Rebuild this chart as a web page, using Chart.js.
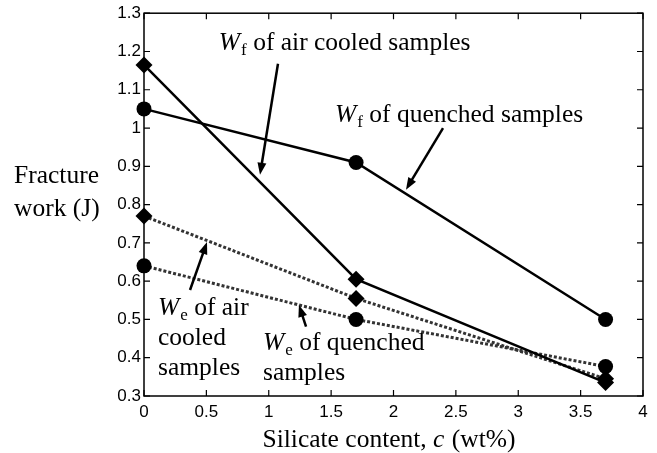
<!DOCTYPE html>
<html>
<head>
<meta charset="utf-8">
<script src="https://cdn.jsdelivr.net/npm/chart.js@4"></script>
<style>
  html, body { margin: 0; padding: 0; background: #fff; }
</style>
</head>
<body>
<canvas id="workChart" width="657" height="453"></canvas>
<script>
// Silicate content (wt%) at which samples were measured
const silicateContent = [0, 1.7, 3.7];

// Fracture work values (J)
const wfAirCooled = [1.165, 0.605, 0.335];
const wfQuenched = [1.05, 0.91, 0.5];
const weAirCooled = [0.77, 0.555, 0.345];
const weQuenched = [0.64, 0.5, 0.377];

// Axis ticks
const xTicks = [0, 0.5, 1, 1.5, 2, 2.5, 3, 3.5, 4];
const yTicks = [0.3, 0.4, 0.5, 0.6, 0.7, 0.8, 0.9, 1, 1.1, 1.2, 1.3];

const yTitleLines = ["Fracture", "work (J)"];
const xTitleParts = [["Silicate content, ", ""], ["c", "i"], [" (wt%)", ""]];

// Callout texts, placed in data coordinates
const callouts = [
  {
    lines: [[["W", "i"], ["f", "s"], [" of air cooled samples", ""]]],
    at: [0.6, 1.222],
    arrow: [1.074, 1.168, 0.93, 0.878],
  },
  {
    lines: [[["W", "i"], ["f", "s"], [" of quenched samples", ""]]],
    at: [1.531, 1.033],
    arrow: [2.397, 1.0, 2.1, 0.839],
  },
  {
    lines: [[["W", "i"], ["e", "s"], [" of air", ""]], [["cooled", ""]], [["samples", ""]]],
    at: [0.112, 0.528],
    arrow: [0.369, 0.577, 0.505, 0.702],
  },
  {
    lines: [[["W", "i"], ["e", "s"], [" of quenched", ""]], [["samples", ""]]],
    at: [0.954, 0.437],
    arrow: [1.299, 0.481, 1.242, 0.538],
  },
];

const SERIF = '"Liberation Serif", "Times New Roman", serif';

function toPoints(values) {
  return silicateContent.map((x, i) => ({ x: x, y: values[i] }));
}

function fontFor(style) {
  if (style === "i") return "italic 25.5px " + SERIF;
  if (style === "s") return "17px " + SERIF;
  return "25.5px " + SERIF;
}

// Draw a run of mixed italic / subscript text, left aligned, middle baseline
function drawRich(ctx, parts, x, y) {
  let cx = x;
  parts.forEach(([text, style]) => {
    ctx.font = fontFor(style);
    ctx.fillText(text, cx, style === "s" ? y + 7 : y);
    cx += ctx.measureText(text).width + (style === "i" ? 1 : 0);
  });
}

function richWidth(ctx, parts) {
  let w = 0;
  parts.forEach(([text, style]) => {
    ctx.font = fontFor(style);
    w += ctx.measureText(text).width;
  });
  return w;
}

function drawArrow(ctx, x1, y1, x2, y2) {
  const ang = Math.atan2(y2 - y1, x2 - x1);
  const len = 12, half = 4.5;
  ctx.lineWidth = 2.5;
  ctx.beginPath();
  ctx.moveTo(x1, y1);
  ctx.lineTo(x2 - Math.cos(ang) * len * 0.8, y2 - Math.sin(ang) * len * 0.8);
  ctx.stroke();
  ctx.beginPath();
  ctx.moveTo(x2, y2);
  ctx.lineTo(x2 - Math.cos(ang) * len - Math.sin(ang) * half, y2 - Math.sin(ang) * len + Math.cos(ang) * half);
  ctx.lineTo(x2 - Math.cos(ang) * len + Math.sin(ang) * half, y2 - Math.sin(ang) * len - Math.cos(ang) * half);
  ctx.closePath();
  ctx.fill();
}

// Box, inward ticks, callouts and axis titles
const decorations = {
  id: "decorations",
  afterDraw(chart) {
    const { ctx, chartArea: a, scales } = chart;
    const xs = scales.x, ys = scales.y;
    ctx.save();
    ctx.strokeStyle = "#000";
    ctx.fillStyle = "#000";
    ctx.lineWidth = 1.5;
    ctx.strokeRect(a.left, a.top, a.right - a.left, a.bottom - a.top);

    ctx.lineWidth = 1.2;
    ctx.beginPath();
    xTicks.forEach((v) => {
      const px = xs.getPixelForValue(v);
      ctx.moveTo(px, a.bottom); ctx.lineTo(px, a.bottom - 6);
      ctx.moveTo(px, a.top); ctx.lineTo(px, a.top + 6);
    });
    yTicks.forEach((v) => {
      const py = ys.getPixelForValue(v);
      ctx.moveTo(a.left, py); ctx.lineTo(a.left + 6, py);
      ctx.moveTo(a.right, py); ctx.lineTo(a.right - 6, py);
    });
    ctx.stroke();

    ctx.textBaseline = "middle";
    ctx.textAlign = "left";
    callouts.forEach((c) => {
      const x0 = xs.getPixelForValue(c.at[0]);
      const y0 = ys.getPixelForValue(c.at[1]);
      c.lines.forEach((line, i) => drawRich(ctx, line, x0, y0 + i * 30));
      drawArrow(ctx,
        xs.getPixelForValue(c.arrow[0]), ys.getPixelForValue(c.arrow[1]),
        xs.getPixelForValue(c.arrow[2]), ys.getPixelForValue(c.arrow[3]));
    });

    // y title, horizontal at the left
    ctx.font = "25.5px " + SERIF;
    yTitleLines.forEach((t, i) => ctx.fillText(t, 14, 176 + i * 33));

    // x title, centred under the axis
    const w = richWidth(ctx, xTitleParts);
    drawRich(ctx, xTitleParts, (a.left + a.right) / 2 - w / 2 - 5, 440);
    ctx.restore();
  },
};

const tickFont = { family: '"Liberation Sans", Arial, sans-serif', size: 17 };

const markerStyle = {
  pointBackgroundColor: "#000",
  pointBorderColor: "#000",
  pointBorderWidth: 0,
};

new Chart(document.getElementById("workChart"), {
  type: "line",
  data: {
    datasets: [
      Object.assign({
        label: "Wf of air cooled samples",
        data: toPoints(wfAirCooled),
        borderColor: "#000",
        borderWidth: 2.5,
        pointStyle: "rectRot",
        pointRadius: 8.5,
      }, markerStyle),
      Object.assign({
        label: "Wf of quenched samples",
        data: toPoints(wfQuenched),
        borderColor: "#000",
        borderWidth: 2.5,
        pointStyle: "circle",
        pointRadius: 7.5,
      }, markerStyle),
      Object.assign({
        label: "We of air cooled samples",
        data: toPoints(weAirCooled),
        borderColor: "#333",
        borderWidth: 3,
        borderDash: [3, 2],
        pointStyle: "rectRot",
        pointRadius: 8.5,
      }, markerStyle),
      Object.assign({
        label: "We of quenched samples",
        data: toPoints(weQuenched),
        borderColor: "#333",
        borderWidth: 3,
        borderDash: [3, 2],
        pointStyle: "circle",
        pointRadius: 7.5,
      }, markerStyle),
    ],
  },
  options: {
    responsive: false,
    animation: false,
    clip: false,
    layout: { padding: { left: 0, top: 12, right: 14, bottom: 0 } },
    plugins: { legend: { display: false }, tooltip: { enabled: false } },
    elements: { line: { tension: 0 } },
    scales: {
      x: {
        type: "linear",
        min: 0,
        max: 4,
        grid: { display: false, drawTicks: false },
        border: { display: false },
        afterBuildTicks: (s) => { s.ticks = xTicks.map((v) => ({ value: v })); },
        afterFit: (s) => { s.height = 57; },
        ticks: {
          autoSkip: false,
          maxRotation: 0,
          padding: 6,
          color: "#000",
          font: tickFont,
          callback: (v) => String(v),
        },
      },
      y: {
        min: 0.3,
        max: 1.3,
        grid: { display: false, drawTicks: false },
        border: { display: false },
        afterBuildTicks: (s) => { s.ticks = yTicks.map((v) => ({ value: v })); },
        afterFit: (s) => { s.width = 144; },
        ticks: {
          autoSkip: false,
          padding: 3,
          color: "#000",
          font: tickFont,
          callback: (v) => String(+v.toFixed(1)),
        },
      },
    },
  },
  plugins: [decorations],
});
</script>
</body>
</html>
